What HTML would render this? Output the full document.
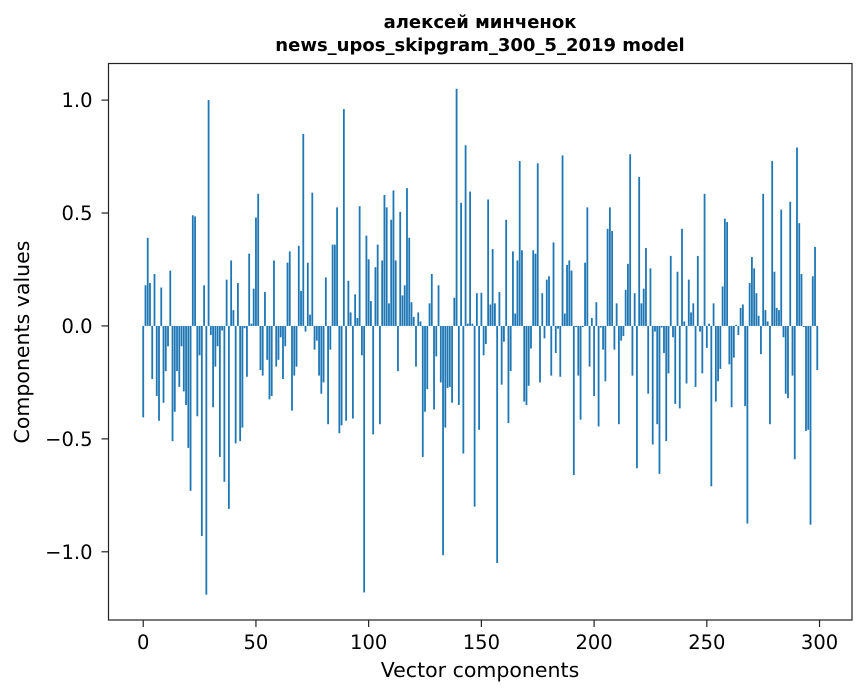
<!DOCTYPE html>
<html><head><meta charset="utf-8"><style>
body{margin:0;background:#fff;}
svg{display:block;font-family:"DejaVu Sans","Liberation Sans",sans-serif;}
</style></head><body>
<svg id="chart" width="867" height="696">
<rect width="867" height="696" fill="#fff"/>
<text x="480" y="28" text-anchor="middle" font-size="18" font-weight="bold">алексей минченок</text>
<text x="480" y="51" text-anchor="middle" font-size="18" font-weight="bold">news_upos_skipgram_300_5_2019 model</text>
<g id="bars"></g>
<rect x="108.5" y="63.5" width="743.5" height="556.5" fill="none" stroke="#222" stroke-width="1.2"/>
<g id="xticks"></g>
<g id="yticks"></g>
<text x="480" y="677" text-anchor="middle" font-size="20.5">Vector components</text>
<text transform="translate(29,342) rotate(-90)" text-anchor="middle" font-size="20.5">Components values</text>
</svg>
<script>
const values = [
-0.405,0.18,0.39,0.19,-0.235,0.23,-0.31,-0.42,0.17,-0.34,
-0.2,-0.09,0.245,-0.51,-0.38,-0.2,-0.27,-0.09,-0.29,-0.35,
-0.54,-0.73,0.49,0.485,-0.40,-0.13,-0.93,0.18,-1.19,1.0,
-0.04,-0.36,-0.18,-0.09,-0.58,-0.02,-0.69,0.205,-0.81,0.29,
0.07,-0.52,0.19,-0.51,-0.45,-0.01,-0.225,0.32,0.01,0.165,
0.48,0.585,-0.195,-0.22,0.15,-0.15,-0.325,-0.31,0.29,-0.18,
-0.15,-0.05,-0.235,-0.09,0.28,0.33,-0.375,-0.22,-0.18,0.355,
0.155,0.85,-0.025,0.28,0.05,0.59,-0.105,-0.065,-0.22,-0.3,
-0.25,0.215,-0.435,-0.105,0.36,0.36,0.525,-0.475,-0.44,0.96,
-0.42,0.2,0.06,-0.41,0.14,0.035,0.53,-0.13,-1.18,0.40,
0.295,0.11,-0.48,0.26,0.36,-0.435,0.29,0.58,0.525,0.1,
0.47,0.6,0.29,-0.2,0.505,0.135,0.18,0.61,0.39,0.105,
0.04,-0.18,0.06,0.02,-0.58,-0.38,-0.28,0.1,0.23,-0.37,
-0.135,0.18,-0.25,-1.015,-0.45,-0.275,-0.27,-0.34,0.125,1.05,
-0.35,0.545,-0.565,0.8,0.01,0.595,0.01,-0.8,0.145,-0.46,
0.147,-0.13,-0.08,0.56,0.095,0.34,0.1,-1.05,0.15,-0.26,
-0.07,0.47,-0.43,-0.2,0.33,0.055,0.29,0.73,0.335,-0.335,
-0.35,-0.265,-0.1,0.335,0.32,0.72,-0.25,0.145,-0.055,0.205,
0.22,-0.22,0.37,-0.12,-0.012,-0.225,0.755,0.055,0.27,0.29,
0.245,-0.66,-0.005,-0.22,-0.415,-0.005,0.28,0.525,-0.18,0.035,
-0.31,0.105,-0.445,-0.007,-0.105,-0.245,0.43,0.525,0.42,-0.105,
0.1,-0.435,-0.065,-0.045,0.16,0.275,0.76,-0.22,0.145,-0.63,
0.66,0.1,0.165,0.345,-0.3,0.255,-0.525,-0.025,-0.435,-0.655,
-0.007,-0.12,-0.51,-0.21,0.31,-0.05,-0.345,0.24,-0.365,0.43,
0.02,-0.255,0.205,0.06,0.1,-0.27,0.31,-0.025,-0.21,0.585,
-0.097,0.01,-0.71,0.1,-0.335,-0.245,-0.19,0.175,0.475,0.46,
-0.17,-0.36,-0.14,0.005,-0.04,0.08,0.095,-0.355,-0.875,0.19,
0.305,0.255,0.145,0.045,-0.125,0.585,0.07,0.02,-0.435,0.73,
0.24,0.08,0.07,0.515,-0.05,-0.3,-0.32,0.55,-0.22,-0.59,
0.79,0.455,0.23,-0.005,-0.465,-0.46,-0.88,0.22,0.35,-0.195
];
const xTicks = [0,50,100,150,200,250,300];
const yTicks = [-1.0,-0.5,0.0,0.5,1.0];
const yTickLabels = ["\u22121.0","\u22120.5","0.0","0.5","1.0"];

const NS = "http://www.w3.org/2000/svg";
const X0 = 108.5, X1 = 852, Y0 = 63.5, Y1 = 620;
const xMin = -15.4, xMax = 314.4, yMin = -1.302, yMax = 1.162;
function xs(v){ return X0 + (v - xMin) / (xMax - xMin) * (X1 - X0); }
function ys(v){ return Y0 + (yMax - v) / (yMax - yMin) * (Y1 - Y0); }

const bars = document.getElementById('bars');
values.forEach((v, i) => {
  const r = document.createElementNS(NS, 'rect');
  const xa = xs(i - 0.4), xb = xs(i + 0.4);
  const ya = ys(Math.max(v, 0)), yb = ys(Math.min(v, 0));
  r.setAttribute('x', xa);
  r.setAttribute('width', xb - xa);
  r.setAttribute('y', ya);
  r.setAttribute('height', Math.max(yb - ya, 0.01));
  r.setAttribute('fill', '#1f77b4');
  
  
  bars.appendChild(r);
});

const xg = document.getElementById('xticks');
xTicks.forEach(t => {
  const x = xs(t);
  const l = document.createElementNS(NS, 'line');
  l.setAttribute('x1', x); l.setAttribute('x2', x);
  l.setAttribute('y1', Y1); l.setAttribute('y2', Y1 + 7);
  l.setAttribute('stroke', '#222');
  l.setAttribute('stroke-width', '1.2');
  
  
  xg.appendChild(l);
  const tx = document.createElementNS(NS, 'text');
  tx.setAttribute('x', x); tx.setAttribute('y', Y1 + 29);
  tx.setAttribute('text-anchor', 'middle');
  tx.setAttribute('font-size', '19.5');
  tx.textContent = String(t);
  
  
  xg.appendChild(tx);
});

const yg = document.getElementById('yticks');
yTicks.forEach((t, k) => {
  const y = ys(t);
  const l = document.createElementNS(NS, 'line');
  l.setAttribute('x1', X0 - 7); l.setAttribute('x2', X0);
  l.setAttribute('y1', y); l.setAttribute('y2', y);
  l.setAttribute('stroke', '#222');
  l.setAttribute('stroke-width', '1.2');
  
  
  yg.appendChild(l);
  const tx = document.createElementNS(NS, 'text');
  tx.setAttribute('x', X0 - 16); tx.setAttribute('y', y + 7);
  tx.setAttribute('text-anchor', 'end');
  tx.setAttribute('font-size', '19.5');
  tx.textContent = yTickLabels[k];
  
  
  yg.appendChild(tx);
});
</script>
</body></html>
